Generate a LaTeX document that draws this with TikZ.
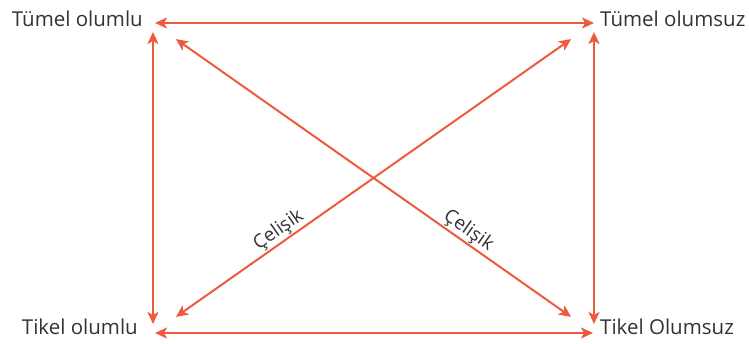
\documentclass[tikz,border=0pt]{standalone}
\usepackage{fontspec}
\setmainfont{Open Sans}
\usetikzlibrary{arrows.meta}
\definecolor{kred}{HTML}{EE5A3E}
\definecolor{ktext}{HTML}{333333}

\begin{document}
\begin{tikzpicture}[x=1pt, y=1pt,
    lbl/.style={text=ktext, inner sep=0pt, font=\fontsize{20.5}{23}\selectfont},
    arrow/.style={{Stealth[length=12pt, width=11pt, inset=3pt]}-{Stealth[length=12pt, width=11pt, inset=3pt]},
                  draw=kred, line width=2pt},
    note/.style={text=ktext, inner sep=1pt, font=\fontsize{19}{21}\selectfont, sloped, above}
  ]
    \useasboundingbox (0,0) rectangle (749,344);

    % corners where the arrows meet
    \coordinate (tl) at (153,321);
    \coordinate (tr) at (594,321);
    \coordinate (bl) at (153,11);
    \coordinate (br) at (594,11);

    \node[lbl, anchor=base east] (tltext) at (143,317) {Tümel olumlu};
    \node[lbl, anchor=base west] (trtext) at (600,317) {Tümel olumsuz};
    \node[lbl, anchor=base east] (bltext) at (138,9) {Tikel olumlu};
    \node[lbl, anchor=base west] (brtext) at (600,9) {Tikel Olumsuz};

    \draw[arrow, shorten <=2pt, shorten >=0pt] (tl) -- (tr);
    \draw[arrow, shorten <=2pt, shorten >=1pt] (bl) -- (br);
    \foreach \a/\b in {tl/bl,tr/br}
      \draw[arrow, shorten <=9pt, shorten >=9pt] (\a) -- (\b);

    \draw[arrow, shorten <=28pt, shorten >=28pt] (tl) -- node[note, pos=0.7] (n2) {Çelişik} (br);
    \draw[arrow, shorten <=28pt, shorten >=28pt] (bl) -- node[note, pos=0.3] (n1) {Çelişik} (tr);
  \end{tikzpicture}
\end{document}
